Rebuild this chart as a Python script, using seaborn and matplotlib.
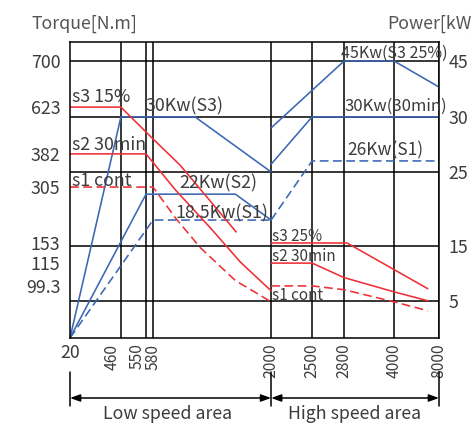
import numpy as np
import pandas as pd
import matplotlib.pyplot as plt
import seaborn as sns

# ---------------------------------------------
# Data (schematic motor curve)
# ---------------------------------------------
speed_ticks = [20, 460, 550, 580, 2000, 2500, 2800, 4000, 8000]
torque_ticks = [99.3, 115, 153, 305, 382, 623, 700]
power_ticks = [5, 15, 25, 30, 45]

# blue power curves (kW)
s3_low_speed = [20, 460, 1085, 2000]
s3_low_power = [0, 30, 30, 25]
s3_high_speed = [2000, 2800, 4000, 8000]
s3_high_power = [29, 45, 45, 38]
s2_low_speed = [20, 550, 1570, 2000]
s2_low_power = [0, 22, 22, 18.5]
s2_high_speed = [2000, 2500, 8000]
s2_high_power = [25.7, 30, 30]
s1_low_speed = [20, 580, 2000]
s1_low_power = [0, 18.5, 18.5]
s1_high_speed = [2000, 2500, 8000]
s1_high_power = [18.5, 26, 26]

# red torque curves (N.m)
t3_low_speed = [20, 460, 580, 905, 1580]
t3_low_torque = [623, 623, 459, 356, 183]
t2_low_speed = [20, 550, 850, 1270, 1630, 2000]
t2_low_torque = [382, 382, 297, 194, 117, 90]
t1_low_speed = [20, 580, 850, 1150, 1570, 2000]
t1_low_torque = [305, 305, 221, 144, 103, 69]
t3_high_speed = [2000, 2870, 7000]
t3_high_torque = [153, 153, 94]
t2_high_speed = [2000, 2500, 2800, 4000, 7000]
t2_high_torque = [115, 115, 105, 88, 71]
t1_high_speed = [2000, 2500, 2800, 4000, 7000]
t1_high_torque = [99.3, 99.3, 92, 69, 52]

# ---------------------------------------------
# Layout: the axes are not linear, tick positions as fractions of the frame
# ---------------------------------------------
speed_pos = [0, 0.138, 0.206, 0.225, 0.545, 0.656, 0.743, 0.878, 1.0]
torque_pos = [0, 0.176, 0.253, 0.321, 0.510, 0.622, 0.780, 0.936]
power_pos = [0, 0.125, 0.311, 0.561, 0.747, 0.936]


def sx(v):
    return np.interp(v, speed_ticks, speed_pos)


def ty(v):
    return np.interp(v, [0] + torque_ticks, torque_pos)


def py(v):
    return np.interp(v, [0] + power_ticks, power_pos)


def px(x, y):
    # pixel position of the picture -> axes fraction
    return (x - 70) / 369, (338 - y) / 296


sns.set_theme(style="white")
plt.rcParams['font.family'] = ['Noto Sans CJK SC', 'DejaVu Sans']
txt = '#3c3c3c'
blue = '#3b67b4'
red = '#ee2f35'
lw = 1.15
dash = (5.5, 2.8)
fs = 12.8

fig = plt.figure(figsize=(4.72, 4.23), dpi=100)
ax = fig.add_axes([70 / 472, 85 / 423, 369 / 472, 296 / 423])
ax.set_xlim(0, 1)
ax.set_ylim(0, 1)

# grid
ax.hlines(py(power_ticks), 0, 1, color='black', lw=1.1, zorder=1)
ax.vlines(sx(speed_ticks[1:]), 0, 1, color='black', lw=1.1, zorder=1)
for s in ax.spines.values():
    s.set_color('black')
    s.set_linewidth(1.1)

# power lines
for xs, ys, st in [(s3_low_speed, s3_low_power, '-'),
                   (s3_high_speed, s3_high_power, '-'),
                   (s2_low_speed, s2_low_power, '-'),
                   (s2_high_speed, s2_high_power, '-'),
                   (s1_low_speed, s1_low_power, '--'),
                   (s1_high_speed, s1_high_power, '--')]:
    d = pd.DataFrame({'x': sx(xs), 'y': py(ys)})
    l = sns.lineplot(data=d, x='x', y='y', ax=ax, color=blue, lw=lw, sort=False, estimator=None)
    if st == '--':
        l.lines[-1].set_dashes(dash)

# torque lines
for xs, ys, st in [(t3_low_speed, t3_low_torque, '-'),
                   (t2_low_speed, t2_low_torque, '-'),
                   (t1_low_speed, t1_low_torque, '--'),
                   (t3_high_speed, t3_high_torque, '-'),
                   (t2_high_speed, t2_high_torque, '-'),
                   (t1_high_speed, t1_high_torque, '--')]:
    d = pd.DataFrame({'x': sx(xs), 'y': ty(ys)})
    l = sns.lineplot(data=d, x='x', y='y', ax=ax, color=red, lw=lw, sort=False, estimator=None)
    if st == '--':
        l.lines[-1].set_dashes(dash)

ax.set_xlabel('')
ax.set_ylabel('')

# ticks
ax.set_yticks(ty(torque_ticks), [f'{t:g}' for t in torque_ticks])
ax.set_xticks(sx(speed_ticks), [str(s) for s in speed_ticks])
ax.tick_params(axis='both', length=0, labelsize=fs, labelcolor=txt)
ax.tick_params(axis='y', pad=7)
ax.tick_params(axis='x', pad=4, labelsize=11.3)
x_align = ['center', 'right', 'right', 'center', 'center', 'center', 'center', 'center', 'center']
for i, lbl in enumerate(ax.get_xticklabels()):
    lbl.set_verticalalignment('top')
    lbl.set_horizontalalignment(x_align[i])
    if i > 0:
        lbl.set_rotation(90)
    else:
        lbl.set_fontsize(fs)

ax2 = ax.twinx()
ax2.set_ylim(0, 1)
ax2.set_yticks(py(power_ticks), [str(p) for p in power_ticks])
ax2.tick_params(axis='y', length=0, labelsize=fs, labelcolor=txt, pad=7)
ax2.grid(False)
for s in ax2.spines.values():
    s.set_visible(False)

# curve annotations: (text, left px, baseline px, size)
notes = [('s3 15%', 72, 102, fs), ('s2 30min', 72, 150, fs), ('s1 cont', 72, 186, fs),
         ('30Kw(S3)', 146, 111, fs), ('22Kw(S2)', 179, 188, fs), ('18.5Kw(S1)', 175, 218, fs),
         ('45Kw(S3 25%)', 341, 58, 11.5), ('30Kw(30min)', 344, 111, 12), ('26Kw(S1)', 347, 155, 12.5),
         ('s3 25%', 272, 241, 11), ('s2 30min', 272, 261, 11), ('s1 cont', 272, 300, 11)]
for t, x, y, s in notes:
    ax.text(*px(x, y), t, transform=ax.transAxes, ha='left', va='baseline',
            fontsize=s, color=txt, clip_on=False, zorder=5)

# axis titles
fig.text(31 / 472, 1 - 29 / 423, 'Torque[N.m]', fontsize=fs, color='#555555', va='baseline')
fig.text(387 / 472, 1 - 29 / 423, 'Power[kW]', fontsize=fs, color='#555555', va='baseline')

# speed area markers below the axis
for xv in [0, sx(2000), 1]:
    ax.plot([xv, xv], [px(0, 372)[1], px(0, 406)[1]], color='black', lw=1.1,
            transform=ax.transAxes, clip_on=False)
ya = px(0, 398)[1]
for a, b in [(0, sx(2000)), (sx(2000), 1)]:
    ax.annotate('', xy=(a, ya), xytext=(b, ya), xycoords='axes fraction',
                arrowprops=dict(arrowstyle='<|-|>,head_length=0.5,head_width=0.18',
                                color='black', lw=1.1, shrinkA=0, shrinkB=0),
                annotation_clip=False)
ax.text(*px(168, 414), 'Low speed area', transform=ax.transAxes, ha='center', va='center',
        fontsize=fs, color=txt, clip_on=False)
ax.text(*px(355, 414), 'High speed area', transform=ax.transAxes, ha='center', va='center',
        fontsize=fs, color=txt, clip_on=False)

plt.savefig('out.png', dpi=100)
